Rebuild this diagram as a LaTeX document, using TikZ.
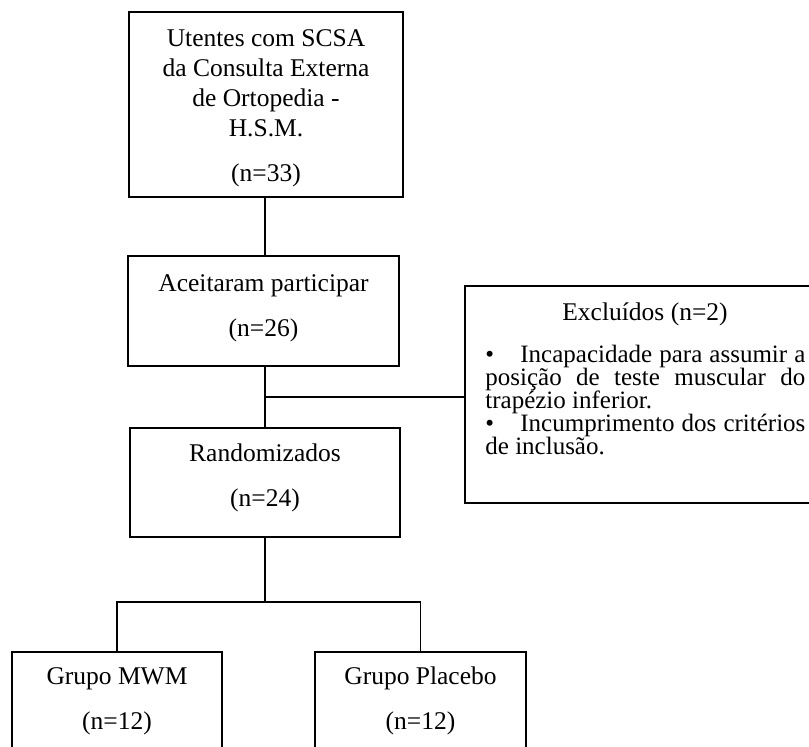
\documentclass[tikz,border=0pt]{standalone}
\usepackage{fontspec}
\setmainfont{Liberation Serif}
\newcommand{\bulbox}{\makebox[17.5pt][l]{\textbullet}}
\begin{document}
\begin{tikzpicture}[x=0.5pt,y=-0.5pt,
  box/.style={draw=black,line width=0.7pt,rectangle,inner sep=0pt,fill=none},
  txt/.style={inner sep=0pt,anchor=base,font=\fontsize{12.75}{15}\selectfont},
  ltxt/.style={inner sep=0pt,anchor=base west,font=\fontsize{12.5}{15}\selectfont},
  conn/.style={draw=black,line width=0.7pt}]
\useasboundingbox (0,0) rectangle (809,747);
\fill[white] (0,0) rectangle (809,747);
\clip (0,0) rectangle (809,747);
% boxes
\node[box,minimum width=137pt,minimum height=92.5pt] (top) at (266,104.5) {};
\node[box,minimum width=135.5pt,minimum height=55pt] (acc) at (263.5,311) {};
\node[box,minimum width=135pt,minimum height=54.5pt] (rand) at (265,482.5) {};
\node[box,minimum width=180pt,minimum height=108.5pt] (excl) at (645,394.5) {};
\node[box,minimum width=105pt,minimum height=60pt] (mwm) at (117,712) {};
\node[box,minimum width=105.5pt,minimum height=60pt] (plac) at (420.5,712) {};
% texts
\node[txt] (t1) at (266,47) {Utentes com SCSA};
\node[txt] (t2) at (266,77) {da Consulta Externa};
\node[txt] (t3) at (266,107) {de Ortopedia -};
\node[txt] (t4) at (266,137) {H.S.M.};
\node[txt] (t5) at (266,182) {(n=33)};
\node[txt] (a1) at (263.5,292) {Aceitaram participar};
\node[txt] (a2) at (263.5,337) {(n=26)};
\node[txt] (r1) at (265,462) {Randomizados};
\node[txt] (r2) at (265,507) {(n=24)};
\node[txt] (m1) at (117,685) {Grupo MWM};
\node[txt] (m2) at (117,730) {(n=12)};
\node[txt] (p1) at (420.5,685) {Grupo Placebo};
\node[txt] (p2) at (420.5,730) {(n=12)};
\node[txt] (e0) at (645,321) {Excluídos (n=2)};
\node[ltxt] (e1) at (485,363) {\makebox[160pt][s]{\bulbox Incapacidade para assumir a}};
\node[ltxt] (e2) at (485,386) {\makebox[160pt][s]{posição de teste muscular do}};
\node[ltxt] (e3) at (485,409) {trapézio inferior.};
\node[ltxt] (e4) at (485,432) {\makebox[160pt][s]{\bulbox Incumprimento dos critérios}};
\node[ltxt] (e5) at (485,455) {de inclusão.};
% connectors
\coordinate (spine) at (265,0);
\coordinate (br) at (265,397);
\coordinate (split) at (265,602);
\draw[conn] (top.south -| spine) -- (acc.north -| spine);
\draw[conn] (acc.south -| spine) -- (rand.north -| spine);
\draw[conn] (br) -- (excl.west |- br);
\draw[conn] (rand.south -| spine) -- (split);
\draw[conn] (mwm.north) |- (split) -| (plac.north);
\end{tikzpicture}
\end{document}
